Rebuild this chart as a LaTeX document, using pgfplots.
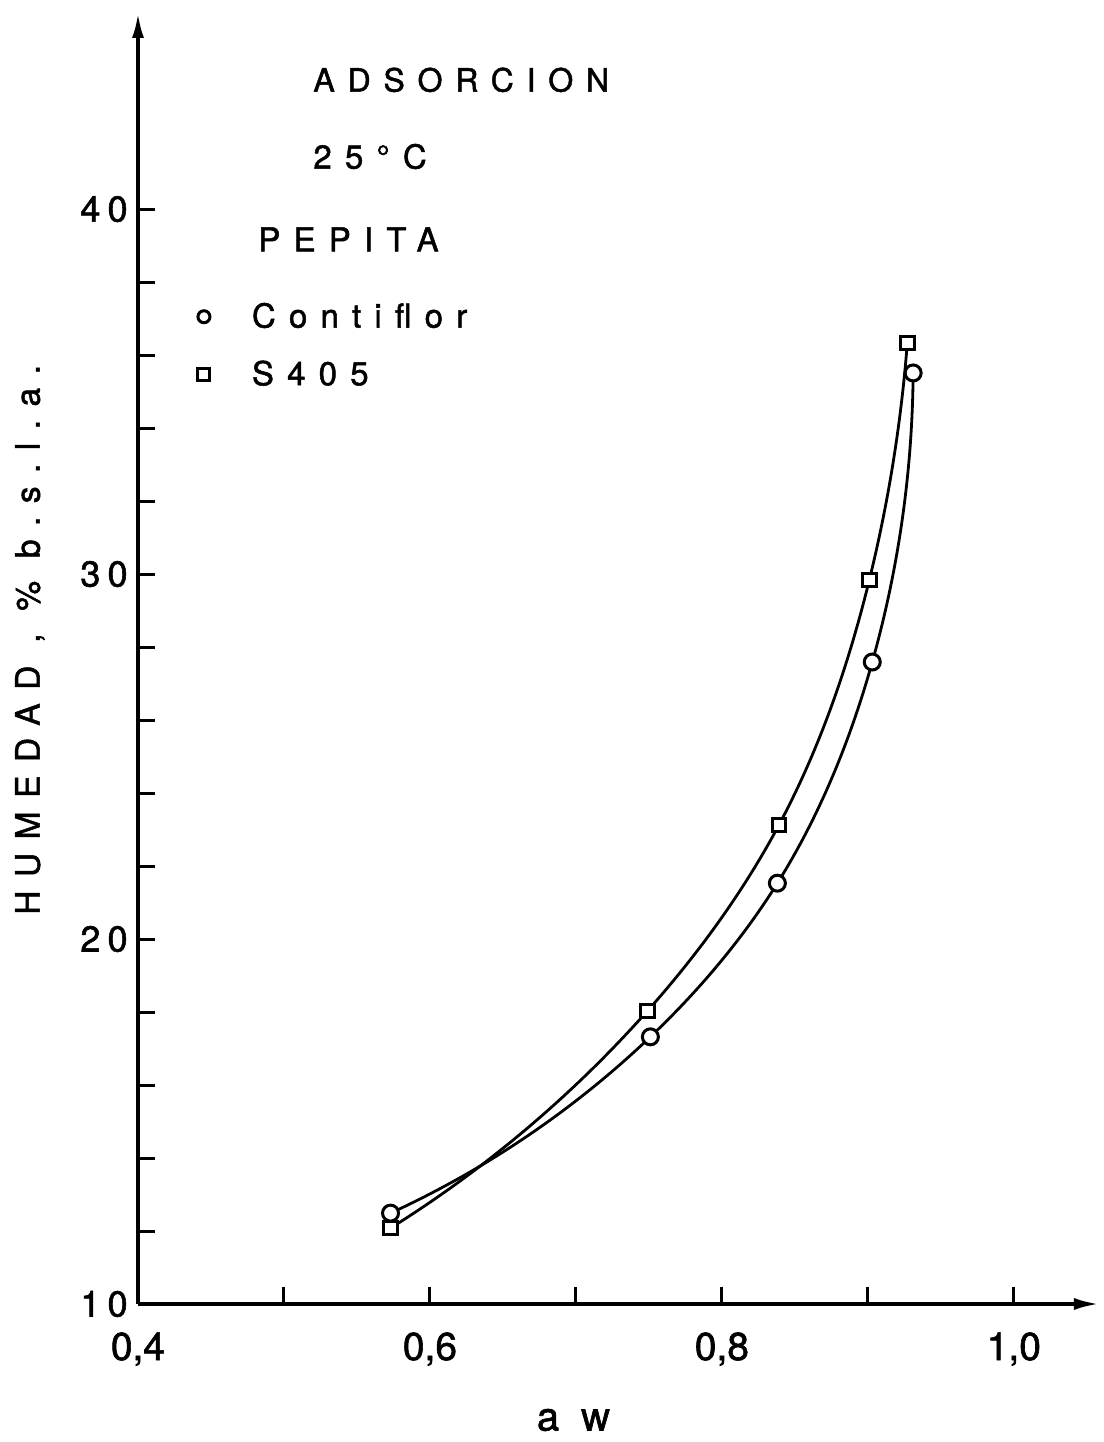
\documentclass[border=0pt]{standalone}
\usepackage{fontspec}
\setmainfont{TeX Gyre Heros}[LetterSpace=40, FakeBold=1.5]
\newfontfamily\plainfont{TeX Gyre Heros}[FakeBold=1.5]
\newfontfamily\tickspaced{TeX Gyre Heros}[LetterSpace=20, FakeBold=1.5]
\usepackage{pgfplots}
\pgfplotsset{compat=1.18}
\usepackage{pgfplotstable}
\usetikzlibrary{arrows.meta, hobby}

% Adsorption isotherms at 25 C (pepita): water activity vs moisture
\pgfplotstableread{
aw    hum
0.573 12.49
0.751 17.32
0.838 21.53
0.903 27.59
0.931 35.51
}\contiflor
\pgfplotstableread{
aw    hum
0.573 12.08
0.749 18.03
0.839 23.12
0.901 29.84
0.927 36.33
}\sfourofive

\begin{document}
\begin{tikzpicture}
\useasboundingbox (-69pt,-69pt) rectangle (483pt,652pt);
\begin{axis}[
  scale only axis, width=481pt, height=646pt,
  xmin=0.4, xmax=1.059, ymin=10, ymax=45.4,
  clip=false,
  axis lines=left,
  axis line style={line width=2pt},
  x axis line style={-{Latex[length=13pt,width=6pt]}},
  y axis line style={-{Latex[length=13pt,width=6pt]}},
  tick align=inside,
  major tick length=8.5pt, minor tick length=8.5pt,
  tick style={black, line width=1.5pt},
  xtick={0.4,0.6,0.8,1.0}, minor xtick={0.5,0.7,0.9},
  xticklabels={{0,4},{0,6},{0,8},{1,0}},
  xticklabel style={font=\plainfont\fontsize{19.5}{20}\selectfont, anchor=north, inner sep=0pt, yshift=-14pt},
  ytick={10,20,30,40}, minor ytick={12,14,16,18,22,24,26,28,32,34,36,38},
  yticklabel style={font=\tickspaced\fontsize{18}{18}\selectfont, anchor=east, inner sep=0pt, xshift=-5pt},
  /pgf/number format/assume math mode=true,
  xlabel={a\hspace{11pt}w},
  xlabel style={font=\plainfont\fontsize{20}{20}\selectfont, at={(rel axis cs:0.4527,-0.0898)}, anchor=center, inner sep=0pt},
  ylabel={HUMEDAD , \% b.s.l.a.},
  ylabel style={font=\fontsize{16.8}{16}\selectfont, at={(rel axis cs:-0.1123,0.514)}, anchor=center, inner sep=0pt},
  legend image code/.code={\draw[#1, mark size=3pt] plot coordinates {(0pt,0pt)};},
  legend style={draw=none, fill=none, at={(axis cs:0.4408,37.44)}, anchor=north west,
    inner sep=0pt, row sep=15pt, column sep=21pt,
    font=\fontsize{16.5}{16}\selectfont, nodes={inner sep=0pt}},
  legend cell align=left,
]
% fitted curves
\addplot[black, line width=1.4pt, hobby, forget plot] table[x=aw, y=hum]{\contiflor};
\addplot[black, line width=1.4pt, hobby, forget plot] table[x=aw, y=hum]{\sfourofive};
% measured points
\addplot[only marks, mark=*, mark size=4pt,
  mark options={fill=white, draw=black, line width=1.5pt}] table[x=aw, y=hum]{\contiflor};
\addlegendentry{Contiflor}
\addplot[only marks, mark=square*, mark size=3.4pt,
  mark options={fill=white, draw=black, line width=1.5pt}] table[x=aw, y=hum]{\sfourofive};
\addlegendentry{S405}

\node[anchor=base west, inner sep=0pt, font=\fontsize{16}{16}\selectfont] at (axis cs:0.5199,43.22) {ADSORCION};
\node[anchor=base west, inner sep=0pt, font=\fontsize{16.5}{16}\selectfont] at (axis cs:0.5199,41.11) {25°C};
\node[anchor=base west, inner sep=0pt, font=\fontsize{16.5}{16}\selectfont] at (axis cs:0.4822,38.84) {PEPITA};
\end{axis}
\end{tikzpicture}
\end{document}
